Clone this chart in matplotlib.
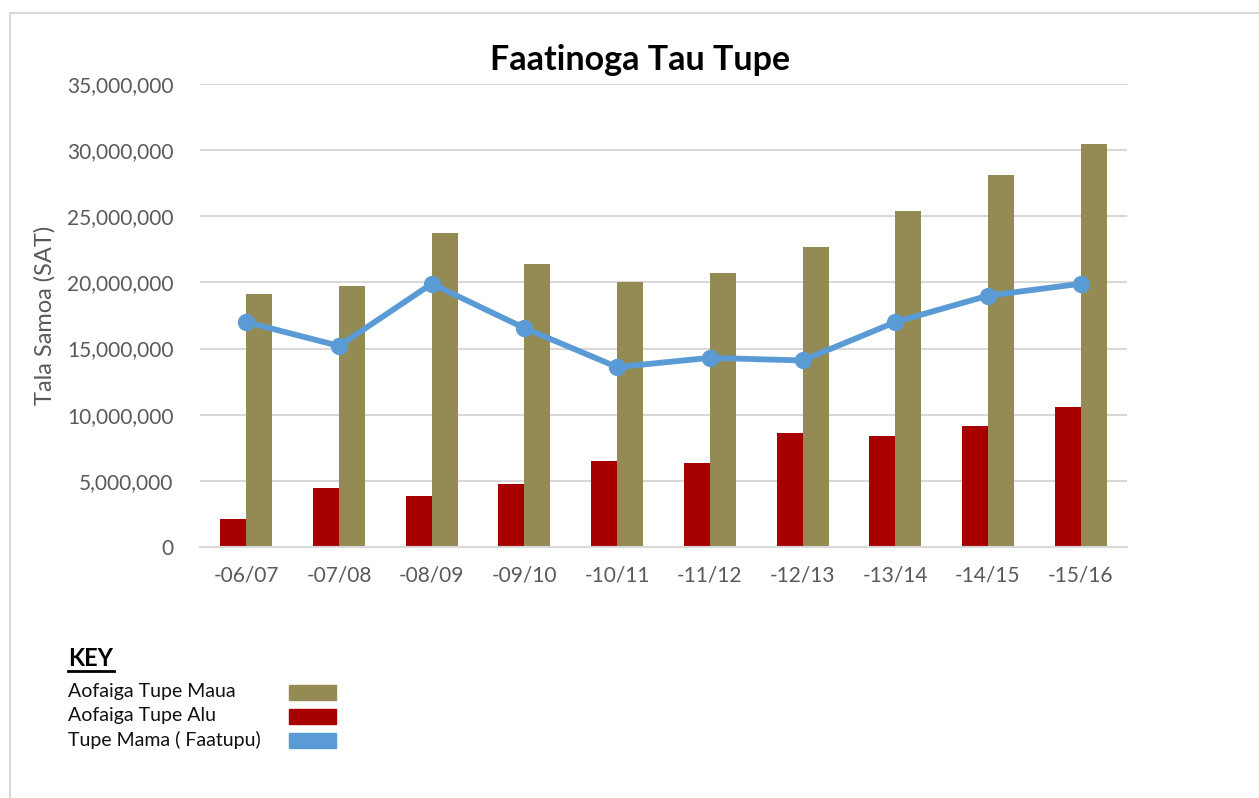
import numpy as np
import matplotlib
matplotlib.use("Agg")
import matplotlib.pyplot as plt
from matplotlib.patches import Rectangle
from matplotlib.ticker import FuncFormatter

# ── Data ─────────────────────────────────────────────────────────────
years = ["-06/07", "-07/08", "-08/09", "-09/10", "-10/11",
         "-11/12", "-12/13", "-13/14", "-14/15", "-15/16"]
tupe_maua = [19.1e6, 19.7e6, 23.7e6, 21.4e6, 20.0e6,
             20.7e6, 22.7e6, 25.4e6, 28.1e6, 30.45e6]
tupe_alu = [2.1e6, 4.48e6, 3.85e6, 4.8e6, 6.47e6,
            6.37e6, 8.64e6, 8.37e6, 9.15e6, 10.58e6]
tupe_mama = [17.0e6, 15.2e6, 19.9e6, 16.55e6, 13.6e6,
             14.3e6, 14.1e6, 17.0e6, 19.0e6, 19.9e6]
key_labels = ["Aofaiga Tupe Maua", "Aofaiga Tupe Alu", "Tupe Mama ( Faatupu)"]

GOLD = "#948A54"
RED = "#A80000"
BLUE = "#5B9BD5"
GRID = "#D9D9D9"
TXT = "#595959"

plt.rcParams["font.family"] = ["Lato", "DejaVu Sans"]

W, H = 1259, 798
fig = plt.figure(figsize=(W / 100, H / 100), dpi=100)

# outer chart frame
fig.patches.append(Rectangle((10 / W, -0.1), 1.2, 1 - 13 / H + 0.1,
                             transform=fig.transFigure, fill=False,
                             edgecolor="#D9D9D9", linewidth=1.5))

ax = fig.add_axes([200 / W, 1 - 547 / H, 927 / W, 463 / H])
x = np.arange(len(years))
bw = 0.28
ax.bar(x - bw / 2, tupe_alu, bw, color=RED, zorder=2)
ax.bar(x + bw / 2, tupe_maua, bw, color=GOLD, zorder=2)
ax.plot(x, tupe_mama, "-o", color=BLUE, linewidth=4.2, markersize=11.5, zorder=3)

ax.set_xlim(-0.5, len(years) - 0.5)
ax.set_ylim(0, 35e6)
ax.set_yticks(np.arange(0, 35e6 + 1, 5e6))
ax.yaxis.set_major_formatter(FuncFormatter(lambda v, p: f"{v:,.0f}"))
ax.set_xticks(x)
ax.set_xticklabels(years)
ax.tick_params(axis="both", length=0, labelsize=15, labelcolor=TXT)
ax.tick_params(axis="x", pad=13)
ax.tick_params(axis="y", pad=19)
ax.grid(axis="y", color=GRID, linewidth=1.5, zorder=0)
for s in ["top", "right", "left"]:
    ax.spines[s].set_visible(False)
ax.spines["bottom"].set_color(GRID)
ax.spines["bottom"].set_linewidth(1.5)
ax.set_ylabel("Tala Samoa (SAT)", fontsize=17, color=TXT, labelpad=8)

fig.text(640 / W, 1 - 60 / H, "Faatinoga Tau Tupe", ha="center", va="center",
         fontsize=24.5, fontweight="bold", color="black")

# ── Key ──────────────────────────────────────────────────────────────
fig.text(68 / W, 1 - 659 / H, "KEY", ha="left", va="center",
         fontsize=17, fontweight="bold", color="black")
fig.add_artist(plt.Line2D([68 / W, 114 / W], [1 - 671 / H, 1 - 671 / H],
                          color="black", linewidth=2))
for i, (lab, col) in enumerate(zip(key_labels, [GOLD, RED, BLUE])):
    yc = 692 + i * 24
    fig.text(68 / W, 1 - yc / H, lab, ha="left", va="center",
             fontsize=14, color="#111111")
    fig.patches.append(Rectangle((289 / W, 1 - (yc + 7.5) / H), 47 / W, 15 / H,
                                 transform=fig.transFigure, color=col))

fig.savefig("out.png", dpi=100)
